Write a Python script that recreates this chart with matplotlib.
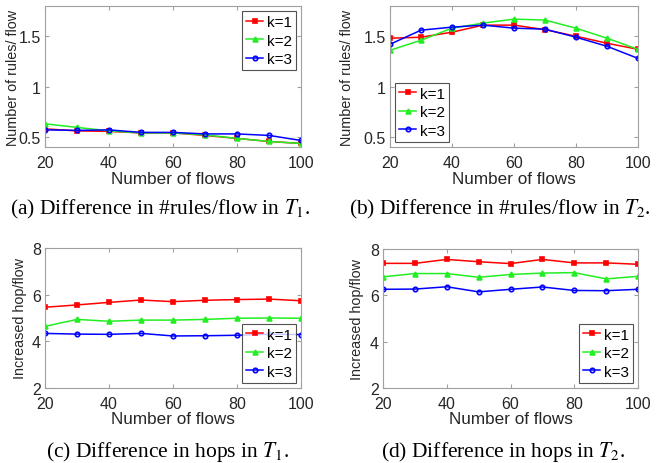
import matplotlib
matplotlib.use("Agg")
import matplotlib.pyplot as plt

flows = [20, 30, 40, 50, 60, 70, 80, 90, 100]
labels = ["k=1", "k=2", "k=3"]

rules_t1_k1 = [0.58, 0.56, 0.555, 0.54, 0.54, 0.515, 0.485, 0.455, 0.435]
rules_t1_k2 = [0.63, 0.595, 0.56, 0.54, 0.54, 0.52, 0.485, 0.455, 0.435]
rules_t1_k3 = [0.57, 0.565, 0.57, 0.545, 0.545, 0.53, 0.53, 0.515, 0.465]

rules_t2_k1 = [1.48, 1.49, 1.54, 1.61, 1.61, 1.565, 1.50, 1.43, 1.37]
rules_t2_k2 = [1.36, 1.46, 1.58, 1.63, 1.67, 1.66, 1.58, 1.48, 1.37]
rules_t2_k3 = [1.42, 1.56, 1.59, 1.61, 1.58, 1.57, 1.49, 1.40, 1.28]

hops_t1_k1 = [5.46, 5.56, 5.67, 5.77, 5.70, 5.76, 5.79, 5.81, 5.74]
hops_t1_k2 = [4.64, 4.94, 4.86, 4.91, 4.91, 4.94, 4.99, 5.00, 4.99]
hops_t1_k3 = [4.34, 4.31, 4.30, 4.34, 4.23, 4.24, 4.26, 4.31, 4.29]

hops_t2_k1 = [7.38, 7.38, 7.55, 7.45, 7.37, 7.55, 7.40, 7.40, 7.34]
hops_t2_k2 = [6.80, 6.94, 6.94, 6.78, 6.90, 6.96, 6.98, 6.71, 6.82]
hops_t2_k3 = [6.26, 6.27, 6.37, 6.15, 6.26, 6.36, 6.21, 6.20, 6.26]

captions = [r"(a) Difference in #rules/flow in $T_1$.",
            r"(b) Difference in #rules/flow in $T_2$.",
            r"(c) Difference in hops in $T_1$.",
            r"(d) Difference in hops in $T_2$."]

plt.rcParams['font.family'] = ['Liberation Sans', 'DejaVu Sans']
plt.rcParams['mathtext.fontset'] = 'stix'

W, H = 659, 464
fig = plt.figure(figsize=(W / 100, H / 100), dpi=100)

def ax_at(x0, y0, x1, y1):
    return fig.add_axes([x0 / W, 1 - y1 / H, (x1 - x0) / W, (y1 - y0) / H])

colors = ['#ff0000', '#22ee22', '#0000ff']
markers = ['s', '^', 'o']
msizes = [2.5, 3.5, 3.2]

panels = [
    (ax_at(45, 7, 301, 148), [rules_t1_k1, rules_t1_k2, rules_t1_k3], (0.4, 1.8), [0.5, 1, 1.5], ['0.5', '1', '1.5'], 'Number of rules/ flow', 'upper right', 209, 13, 180, 160),
    (ax_at(390, 7, 638, 148), [rules_t2_k1, rules_t2_k2, rules_t2_k3], (0.4, 1.8), [0.5, 1, 1.5], ['0.5', '1', '1.5'], 'Number of rules/ flow', 'lower left', 209, 347, 180, 500),
    (ax_at(45, 249, 301, 389), [hops_t1_k1, hops_t1_k2, hops_t1_k3], (2, 8), [2, 4, 6, 8], ['2', '4', '6', '8'], 'Increased hop/flow', 'lower right', 452, 20, 420, 168),
    (ax_at(383, 250, 638, 389), [hops_t2_k1, hops_t2_k2, hops_t2_k3], (2, 8), [2, 4, 6, 8], ['2', '4', '6', '8'], 'Increased hop/flow', 'lower right', 452, 357, 420, 503),
]

edge = '#a0a0a0'
txt = '#262626'
for i, (ax, series, ylim, yt, ytl, ylab, loc, capy, ylx, xly, capx) in enumerate(panels):
    for s, c, m, ms, lab in zip(series, colors, markers, msizes, labels):
        ax.plot(flows, s, color=c, marker=m, markersize=ms, linewidth=1.1,
                markerfacecolor=c if m != 'o' else 'none', markeredgewidth=1.2, label=lab)
    ax.set_xlim(20, 100)
    ax.set_ylim(*ylim)
    ax.set_xticks([20, 40, 60, 80, 100])
    ax.set_yticks(yt)
    ax.set_yticklabels(ytl)
    ax.tick_params(direction='in', top=True, right=True, labelsize=11.5,
                   length=3, color=edge, labelcolor=txt)
    ax.tick_params(axis='x', pad=6)
    ax.tick_params(axis='y', pad=3)
    for sp in ax.spines.values():
        sp.set_color(edge)
        sp.set_linewidth(0.8)
    ax.set_xlabel('Number of flows', fontsize=12.3, color=txt)
    ax.set_ylabel(ylab, fontsize=10.4, color=txt)
    pos = ax.get_position()
    ax0 = pos.x0 * W
    axw = pos.width * W
    ay1 = (1 - pos.y0) * H
    ah = pos.height * H
    ax.yaxis.set_label_coords((ylx - ax0) / axw, 0.5)
    ax.xaxis.set_label_coords(0.5, -(xly - ay1) / ah)
    ax.yaxis.label.set_va('center')
    ax.xaxis.label.set_va('center')
    leg = ax.legend(loc=loc, fontsize=11, frameon=True, fancybox=False,
                    borderaxespad=0.35, handlelength=1.1, handletextpad=0.25,
                    borderpad=0.25, labelspacing=0.3)
    leg.get_frame().set_edgecolor(txt)
    leg.get_frame().set_linewidth(0.8)
    fig.text(capx / W, 1 - capy / H, captions[i], ha='center', va='center',
             fontsize=15.5, family=['Liberation Serif', 'DejaVu Serif'])

fig.savefig('out.png', dpi=100)
